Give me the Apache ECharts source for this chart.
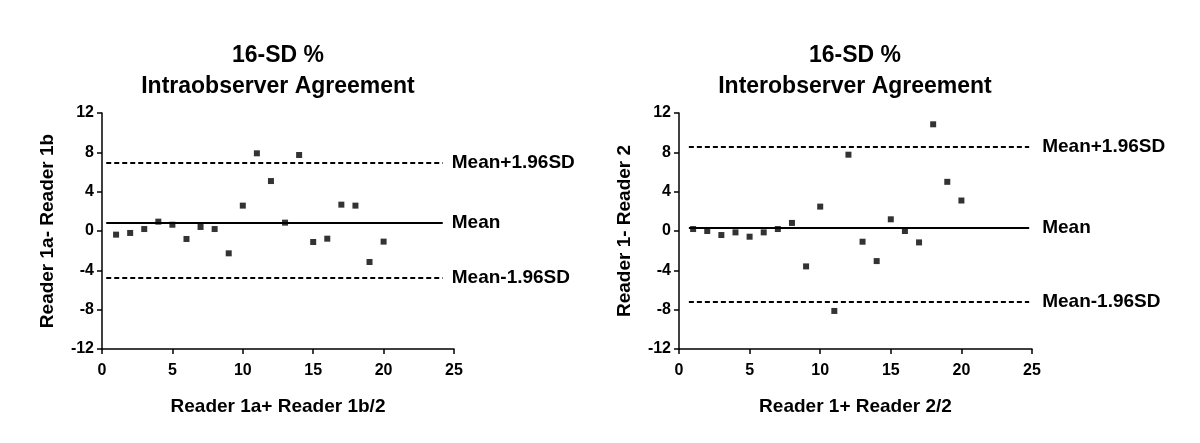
<!DOCTYPE html>
<html>
<head>
<meta charset="utf-8">
<script src="https://cdn.jsdelivr.net/npm/echarts@6/dist/echarts.min.js"></script>
<style>
html,body{margin:0;padding:0;background:#fff;}
#chart{width:1200px;height:443px;}
</style>
</head>
<body>
<div id="chart"></div>
<script>
// ---- data ----
const pairIndex = [1,2,3,4,5,6,7,8,9,10,11,12,13,14,15,16,17,18,19,20];
const intraDiff = [-0.37,-0.2,0.2,0.95,0.64,-0.81,0.41,0.2,-2.27,2.58,7.9,5.08,0.85,7.73,-1.12,-0.78,2.68,2.58,-3.15,-1.08];
const interDiff = [0.2,0,-0.41,-0.14,-0.58,-0.14,0.2,0.82,-3.6,2.48,-8.13,7.76,-1.09,-3.06,1.19,0,-1.16,10.85,5.0,3.1];
const intraLimits = { upper: 6.98, mean: 0.85, lower: -4.75 };
const interLimits = { upper: 8.54, mean: 0.34, lower: -7.18 };
const intraSpan = [0.3, 24.2];
const interSpan = [0.7, 24.8];
const limitLabels = ['Mean+1.96SD', 'Mean', 'Mean-1.96SD'];
const titles = ['16-SD %\nIntraobserver Agreement', '16-SD %\nInterobserver Agreement'];
const xNames = ['Reader 1a+ Reader 1b/2', 'Reader 1+ Reader 2/2'];
const yNames = ['Reader 1a- Reader 1b', 'Reader 1- Reader 2'];
const xTicks = { min: 0, max: 25, interval: 5 };
const yTicks = { min: -12, max: 12, interval: 4 };

const FONT = "'Liberation Sans', Arial, Helvetica, sans-serif";

function makeAxisX(idx) {
  return {
    gridIndex: idx, type: 'value', min: xTicks.min, max: xTicks.max, interval: xTicks.interval,
    axisLine: { show: true, onZero: false, lineStyle: { color: '#000', width: 1.5 } },
    axisTick: { show: true, length: 5, lineStyle: { color: '#000', width: 1.5 } },
    axisLabel: { color: '#000', fontWeight: 'bold', fontSize: 16, fontFamily: FONT, margin: 14 },
    splitLine: { show: false },
    name: xNames[idx], nameLocation: 'middle', nameGap: 48,
    nameTextStyle: { color: '#000', fontWeight: 'bold', fontSize: 19, fontFamily: FONT }
  };
}
function makeAxisY(idx) {
  return {
    gridIndex: idx, type: 'value', min: yTicks.min, max: yTicks.max, interval: yTicks.interval,
    axisLine: { show: true, onZero: false, lineStyle: { color: '#000', width: 1.5 } },
    axisTick: { show: true, length: 5, lineStyle: { color: '#000', width: 1.5 } },
    axisLabel: { color: '#000', fontWeight: 'bold', fontSize: 16, fontFamily: FONT, margin: 8 },
    splitLine: { show: false },
    name: yNames[idx], nameLocation: 'middle', nameGap: 45,
    nameTextStyle: { color: '#000', fontWeight: 'bold', fontSize: 19, fontFamily: FONT }
  };
}
function limitLines(lim, span) {
  const vals = [lim.upper, lim.mean, lim.lower];
  return vals.map((v, i) => [
    { coord: [span[0], v], lineStyle: { type: i === 1 ? 'solid' : [5, 3], width: i === 1 ? 2 : 1.8, color: '#000' },
      label: { formatter: limitLabels[i] } },
    { coord: [span[1], v] }
  ]);
}
function makeSeries(idx, diffs, lim, span, dist) {
  return {
    type: 'scatter', xAxisIndex: idx, yAxisIndex: idx,
    data: pairIndex.map((x, i) => [x, diffs[i]]),
    symbol: 'rect', symbolSize: 6,
    itemStyle: { color: '#000' },
    silent: true, animation: false,
    markLine: {
      silent: true, symbol: 'none', animation: false,
      label: { show: true, position: 'end', distance: dist, color: '#000', fontWeight: 'bold', fontSize: 19, fontFamily: FONT },
      data: limitLines(lim, span)
    }
  };
}

const chart = echarts.init(document.getElementById('chart'), null, { renderer: 'canvas' });
chart.setOption({
  backgroundColor: '#fff',
  animation: false,
  grid: [
    { left: 102, right: 746, top: 113, bottom: 94 },
    { left: 679, right: 168, top: 113, bottom: 94 }
  ],
  xAxis: [makeAxisX(0), makeAxisX(1)],
  yAxis: [makeAxisY(0), makeAxisY(1)],
  graphic: [
    { type: 'text', x: 278, y: 40, style: { text: titles[0], align: 'center', verticalAlign: 'top', fill: '#000', fontSize: 23, fontWeight: 'bold', fontFamily: FONT, lineHeight: 31 } },
    { type: 'text', x: 855, y: 40, style: { text: titles[1], align: 'center', verticalAlign: 'top', fill: '#000', fontSize: 23, fontWeight: 'bold', fontFamily: FONT, lineHeight: 31 } }
  ],
  series: [
    makeSeries(0, intraDiff, intraLimits, intraSpan, 9),
    makeSeries(1, interDiff, interLimits, interSpan, 13)
  ]
});
</script>
</body>
</html>
